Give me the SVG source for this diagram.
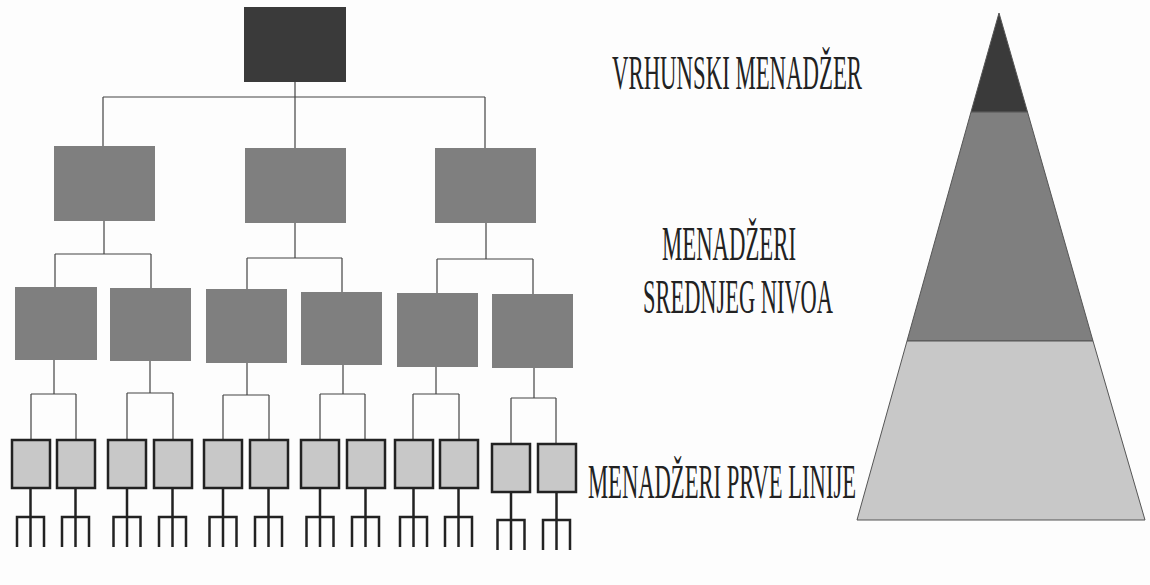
<svg xmlns="http://www.w3.org/2000/svg" xmlns:xlink="http://www.w3.org/1999/xlink" width="1150" height="585" viewBox="0 0 1150 585">
  <style>
    .top { fill: #3a3a3a; }
    .mid { fill: #7f7f7f; }
    .low { fill: #c8c8c8; stroke: #222; stroke-width: 2.5; }
    .wire { fill: none; stroke: #444; stroke-width: 1.2; }
    .rake { fill: none; stroke: #222; stroke-width: 2.5; }
    .lbl { font-family: "Liberation Serif", "DejaVu Serif", serif; font-size: 48px; fill: #222; }
    .band { stroke: #555; stroke-width: 1; }
  </style>
  <defs>
    <!-- three-pronged fork hanging under a first-line manager -->
    <path id="fork" class="rake" d="M0,0 V58 M-13.5,58 V28 H13.5 V58"/>
  </defs>

  <rect width="1150" height="585" fill="#fdfdfd"/>

  <!-- connectors -->
  <g id="connectors" class="wire">
    <path d="M295,82 V97 M103,97 H485 M103,97 V146 M295,97 V148 M485,97 V148"/>
    <path d="M104,221 V254 M55,254 H151 M55,254 V287 M151,254 V288"/>
    <path d="M295,223 V258 M247,258 H342 M247,258 V289 M342,258 V292"/>
    <path d="M486,223 V259 M437,259 H533 M437,259 V293 M533,259 V294"/>
    <path d="M54,360 V394 M31,394 H76 M31,394 V439 M76,394 V439"/>
    <path d="M150,361 V393 M127,393 H173 M127,393 V439 M173,393 V439"/>
    <path d="M247,363 V395 M223,395 H269 M223,395 V439 M269,395 V439"/>
    <path d="M343,365 V394 M320,394 H365 M320,394 V439 M365,394 V439"/>
    <path d="M436,367 V394 M413,394 H459 M413,394 V439 M459,394 V439"/>
    <path d="M534,368 V398 M511,398 H556 M511,398 V443 M556,398 V443"/>
    <use xlink:href="#fork" x="30.5" y="489"/>
    <use xlink:href="#fork" x="75.5" y="489"/>
    <use xlink:href="#fork" x="127" y="489"/>
    <use xlink:href="#fork" x="172.5" y="489"/>
    <use xlink:href="#fork" x="223" y="489"/>
    <use xlink:href="#fork" x="268.5" y="489"/>
    <use xlink:href="#fork" x="320" y="489"/>
    <use xlink:href="#fork" x="365.5" y="489"/>
    <use xlink:href="#fork" x="413.5" y="489"/>
    <use xlink:href="#fork" x="458.5" y="489"/>
    <use xlink:href="#fork" x="511" y="492"/>
    <use xlink:href="#fork" x="556.5" y="492"/>
  </g>

  <!-- top manager -->
  <g id="ceo"><rect class="top" x="244" y="7" width="102" height="75"/></g>

  <!-- middle managers -->
  <g id="mid-1"><rect class="mid" x="54" y="146" width="101" height="75"/></g>
  <g id="mid-2"><rect class="mid" x="245" y="148" width="101" height="75"/></g>
  <g id="mid-3"><rect class="mid" x="435" y="148" width="101" height="75"/></g>

  <g id="mid-1a"><rect class="mid" x="15" y="287" width="82" height="73"/></g>
  <g id="mid-1b"><rect class="mid" x="110" y="288" width="81" height="73"/></g>
  <g id="mid-2a"><rect class="mid" x="206" y="289" width="81" height="74"/></g>
  <g id="mid-2b"><rect class="mid" x="301" y="292" width="81" height="73"/></g>
  <g id="mid-3a"><rect class="mid" x="397" y="293" width="81" height="74"/></g>
  <g id="mid-3b"><rect class="mid" x="492" y="294" width="81" height="74"/></g>

  <!-- first-line managers -->
  <g id="line-1"><rect class="low" x="12" y="440" width="38" height="48"/></g>
  <g id="line-2"><rect class="low" x="57" y="440" width="38" height="48"/></g>
  <g id="line-3"><rect class="low" x="108" y="440" width="38" height="48"/></g>
  <g id="line-4"><rect class="low" x="154" y="440" width="38" height="48"/></g>
  <g id="line-5"><rect class="low" x="204" y="440" width="38" height="48"/></g>
  <g id="line-6"><rect class="low" x="250" y="440" width="38" height="48"/></g>
  <g id="line-7"><rect class="low" x="301" y="440" width="38" height="48"/></g>
  <g id="line-8"><rect class="low" x="347" y="440" width="38" height="48"/></g>
  <g id="line-9"><rect class="low" x="395" y="440" width="38" height="48"/></g>
  <g id="line-10"><rect class="low" x="440" y="440" width="38" height="48"/></g>
  <g id="line-11"><rect class="low" x="492" y="444" width="38" height="48"/></g>
  <g id="line-12"><rect class="low" x="538" y="444" width="38" height="48"/></g>

  <!-- level labels -->
  <g id="labels">
    <text class="lbl" x="612" y="89" textLength="250" lengthAdjust="spacingAndGlyphs">VRHUNSKI MENADŽER</text>
    <text class="lbl" x="662" y="260" textLength="134" lengthAdjust="spacingAndGlyphs">MENADŽERI</text>
    <text class="lbl" x="643" y="313" textLength="190" lengthAdjust="spacingAndGlyphs">SREDNJEG NIVOA</text>
    <text class="lbl" x="588" y="498" textLength="268" lengthAdjust="spacingAndGlyphs">MENADŽERI PRVE LINIJE</text>
  </g>

  <!-- pyramid -->
  <g id="pyramid">
    <polygon class="band top" points="999,13 1027.5,112 971,112"/>
    <polygon class="band mid" points="971,112 1027.5,112 1093,341 907,341"/>
    <polygon class="band" fill="#c8c8c8" points="907,341 1093,341 1145,520 857,520"/>
  </g>
</svg>
